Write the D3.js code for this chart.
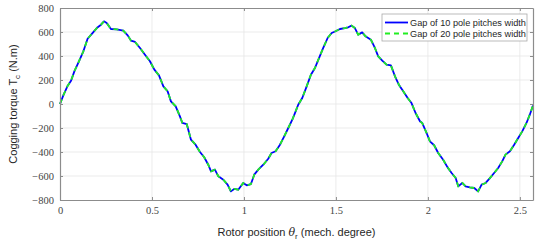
<!DOCTYPE html>
<html>
<head>
<meta charset="utf-8">
<script src="https://cdn.jsdelivr.net/npm/d3@7"></script>
<style>
  body { margin: 0; background: #fff; }
  svg { display: block; }
</style>
</head>
<body>
<div id="container"></div>
<script>
/* CONSTANTS AND GLOBALS */
const width = 550,
    height = 240,
    margin = { top: 8, bottom: 40, left: 60, right: 17 };

// DATA
const rotorPos = [0, 0.018, 0.042, 0.06, 0.078, 0.103, 0.127, 0.15, 0.172, 0.2, 0.223, 0.239, 0.254, 0.277, 0.308,
    0.344, 0.368, 0.386, 0.408, 0.435, 0.462, 0.489, 0.513, 0.538, 0.562, 0.585, 0.603, 0.629, 0.652, 0.665,
    0.689, 0.712, 0.737, 0.761, 0.784, 0.806, 0.821, 0.842, 0.861, 0.888, 0.911, 0.929, 0.947, 0.969, 0.996,
    1.015, 1.038, 1.056, 1.078, 1.105, 1.132, 1.15, 1.172, 1.196, 1.219, 1.241, 1.263, 1.281, 1.295, 1.317,
    1.341, 1.364, 1.386, 1.408, 1.431, 1.455, 1.477, 1.498, 1.522, 1.549, 1.567, 1.585, 1.603, 1.621, 1.643,
    1.661, 1.69, 1.712, 1.73, 1.752, 1.775, 1.799, 1.821, 1.842, 1.866, 1.89, 1.911, 1.933, 1.957, 1.969,
    1.993, 2.011, 2.034, 2.056, 2.083, 2.107, 2.129, 2.151, 2.165, 2.187, 2.205, 2.228, 2.252, 2.273, 2.292,
    2.314, 2.337, 2.36, 2.382, 2.404, 2.422, 2.446, 2.469, 2.491, 2.513, 2.536, 2.554, 2.5714];

const torqueGap10 = [0, 72, 153, 194, 272, 356, 439, 544, 583, 633, 661, 689, 675, 625, 622,
    611, 572, 528, 517, 467, 411, 356, 286, 239, 147, 106, 22, -19, -103, -158,
    -167, -297, -339, -400, -444, -506, -561, -547, -603, -631, -672, -728, -708, -714, -658,
    -678, -667, -589, -547, -506, -456, -408, -394, -339, -269, -200, -131, -61, -6, 50,
    147, 244, 300, 383, 467, 550, 592, 606, 625, 633, 639, 653, 633, 578, 597,
    564, 536, 467, 397, 361, 328, 322, 231, 161, 106, 50, 8, -75, -144, -158,
    -242, -311, -344, -408, -464, -528, -575, -617, -686, -658, -686, -694, -700, -728, -672,
    -658, -617, -575, -533, -478, -422, -394, -339, -283, -228, -158, -89, -12];

// the two gap widths overlap everywhere in the picture
const torqueGap20 = [0, 72, 153, 194, 272, 356, 439, 544, 583, 633, 661, 689, 675, 625, 622,
    611, 572, 528, 517, 467, 411, 356, 286, 239, 147, 106, 22, -19, -103, -158,
    -167, -297, -339, -400, -444, -506, -561, -547, -603, -631, -672, -728, -708, -714, -658,
    -678, -667, -589, -547, -506, -456, -408, -394, -339, -269, -200, -131, -61, -6, 50,
    147, 244, 300, 383, 467, 550, 592, 606, 625, 633, 639, 653, 633, 578, 597,
    564, 536, 467, 397, 361, 328, 322, 231, 161, 106, 50, 8, -75, -144, -158,
    -242, -311, -344, -408, -464, -528, -575, -617, -686, -658, -686, -694, -700, -728, -672,
    -658, -617, -575, -533, -478, -422, -394, -339, -283, -228, -158, -89, -12];

const xTicks = [0, 0.5, 1, 1.5, 2, 2.5];
const yTicks = [-800, -600, -400, -200, 0, 200, 400, 600, 800];
const seriesNames = ["Gap of 10 pole pitches width", "Gap of 20 pole pitches width"];

// SVG
const svg = d3.select("#container")
    .append("svg")
    .attr("width", width)
    .attr("height", height);

// SCALES
const x = d3.scaleLinear()
    .domain([0, 2.5714])
    .range([margin.left, width - margin.right]);

const y = d3.scaleLinear()
    .domain([-800, 800])
    .range([height - margin.bottom, margin.top]);

const x0 = margin.left, x1 = width - margin.right,
    y0 = height - margin.bottom, y1 = margin.top;

// GRID
svg.append("g")
    .selectAll("line")
    .data(xTicks.slice(1))
    .join("line")
    .attr("x1", d => x(d)).attr("x2", d => x(d))
    .attr("y1", y0).attr("y2", y1)
    .attr("stroke", "#e6e6e6")
    .attr("stroke-width", 0.8);

svg.append("g")
    .selectAll("line")
    .data(yTicks.slice(1, -1))
    .join("line")
    .attr("x1", x0).attr("x2", x1)
    .attr("y1", d => y(d)).attr("y2", d => y(d))
    .attr("stroke", "#e6e6e6")
    .attr("stroke-width", 0.8);

// LINES
const lineGen = d3.line()
    .x(d => x(d[0]))
    .y(d => y(d[1]));

svg.append("path")
    .datum(d3.zip(rotorPos, torqueGap10))
    .attr("d", lineGen)
    .attr("fill", "none")
    .attr("stroke", "#0000ff")
    .attr("stroke-width", 1.8)
    .attr("stroke-linejoin", "round");

svg.append("path")
    .datum(d3.zip(rotorPos, torqueGap20))
    .attr("d", lineGen)
    .attr("fill", "none")
    .attr("stroke", "#22ee22")
    .attr("stroke-width", 1.8)
    .attr("stroke-dasharray", "5,4");

// AXES (box with inward ticks)
const fmt = d => d3.format("")(d).replace("-", "\u2212");

const xBottom = svg.append("g")
    .attr("transform", `translate(0,${y0})`)
    .call(d3.axisBottom(x).tickValues(xTicks).tickSizeInner(-3).tickSizeOuter(0).tickPadding(7).tickFormat(fmt));
const xTop = svg.append("g")
    .attr("transform", `translate(0,${y1})`)
    .call(d3.axisTop(x).tickValues(xTicks).tickSizeInner(-3).tickSizeOuter(0).tickFormat(""));
const yLeft = svg.append("g")
    .attr("transform", `translate(${x0},0)`)
    .call(d3.axisLeft(y).tickValues(yTicks).tickSizeInner(-3).tickSizeOuter(0).tickPadding(6).tickFormat(fmt));
const yRight = svg.append("g")
    .attr("transform", `translate(${x1},0)`)
    .call(d3.axisRight(y).tickValues(yTicks).tickSizeInner(-3).tickSizeOuter(0).tickFormat(""));

[xBottom, xTop, yLeft, yRight].forEach(g => {
    g.select(".domain").attr("stroke", "#8c8c8c").attr("stroke-width", 1.2);
    g.selectAll(".tick line").attr("stroke", "#8c8c8c");
    g.selectAll(".tick text")
        .attr("fill", "#444")
        .attr("font-family", "'Liberation Serif', serif")
        .attr("font-size", 10.5);
});

// AXIS LABELS
const xLabel = svg.append("text")
    .attr("x", (x0 + x1) / 2)
    .attr("y", 236)
    .attr("text-anchor", "middle")
    .attr("font-family", "'Liberation Sans', Arial, sans-serif")
    .attr("font-size", 11)
    .attr("fill", "#262626");
xLabel.append("tspan").text("Rotor position ");
xLabel.append("tspan").text("\u03b8").attr("font-style", "italic").attr("font-family", "'DejaVu Serif', serif");
xLabel.append("tspan").text("r").attr("font-size", 8).attr("dy", 3);
xLabel.append("tspan").text(" (mech. degree)").attr("dy", -3);

const yLabel = svg.append("text")
    .attr("transform", `translate(17,${(y0 + y1) / 2}) rotate(-90)`)
    .attr("text-anchor", "middle")
    .attr("font-family", "'Liberation Sans', Arial, sans-serif")
    .attr("font-size", 11)
    .attr("fill", "#262626");
yLabel.append("tspan").text("Cogging torque T");
yLabel.append("tspan").text("c").attr("font-size", 8).attr("dy", 3);
yLabel.append("tspan").text(" (N.m)").attr("dy", -3);

// LEGEND
const legend = svg.append("g").attr("transform", "translate(382,14)");
legend.append("rect")
    .attr("width", 145).attr("height", 27)
    .attr("fill", "#fff")
    .attr("stroke", "#aaa")
    .attr("stroke-width", 0.8);

const legendItems = legend.selectAll("g.item")
    .data(seriesNames)
    .join("g")
    .attr("class", "item")
    .attr("transform", (d, i) => `translate(0,${8.5 + i * 11})`);

legendItems.append("line")
    .attr("x1", 3).attr("x2", 26)
    .attr("stroke", (d, i) => i === 0 ? "#0000ff" : "#22ee22")
    .attr("stroke-width", 1.8)
    .attr("stroke-dasharray", (d, i) => i === 0 ? null : "5,4");

legendItems.append("text")
    .attr("x", 28)
    .attr("dy", "0.35em")
    .attr("font-family", "'Liberation Sans', Arial, sans-serif")
    .attr("font-size", 9.2)
    .attr("fill", "#262626")
    .text(d => d);
</script>
</body>
</html>
